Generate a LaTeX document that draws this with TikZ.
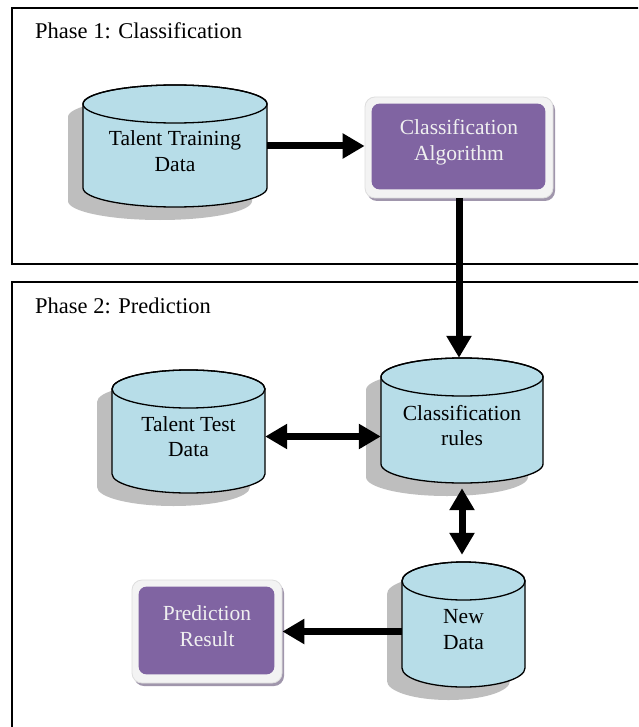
\documentclass[tikz,border=0pt]{standalone}
\usepackage{fontspec}
\setmainfont{Liberation Serif}
\usetikzlibrary{arrows.meta,shadows}

\definecolor{cylfill}{RGB}{183,221,232}
\definecolor{cylshade}{RGB}{190,190,190}
\definecolor{boxpurple}{RGB}{128,100,162}
\definecolor{framegray}{RGB}{243,243,243}
\definecolor{frameedge}{RGB}{222,222,222}
\definecolor{frameshadow}{RGB}{160,150,172}

\tikzset{
  phase/.style={draw=black, line width=1.5pt},
  phasetitle/.style={anchor=base west, inner sep=0pt, font=\fontsize{22.5}{26}\selectfont},
  anchorbox/.style={rectangle, inner sep=0pt},
  cyltext/.style={align=center, inner sep=0pt, font=\fontsize{21.5}{25.5}\selectfont},
  boxtext/.style={align=center, inner sep=0pt, text=white!94!black, font=\fontsize{21.5}{26}\selectfont},
  frame/.style={rectangle, rounded corners=10pt, fill=framegray, draw=frameedge, line width=0.8pt, inner sep=0pt,
    drop shadow={shadow xshift=2pt, shadow yshift=-3pt, fill=frameshadow, opacity=1}},
  flow/.style={line width=7pt, -{Triangle[width=24pt,length=22pt]}},
  flowboth/.style={line width=7pt, {Triangle[width=24pt,length=22pt]}-{Triangle[width=24pt,length=22pt]}},
}

% database cylinder: name, left, right, top, bottom, label
\newcommand\dbcyl[6]{%
  \pgfmathsetmacro\cylcx{(#2+#3)/2}%
  \pgfmathsetmacro\cylrx{(#3-#2)/2}%
  \pgfmathsetmacro\cylyt{#4+19}%
  \pgfmathsetmacro\cylyb{#5-19}%
  \pgfmathsetmacro\cylcy{(#4+#5)/2}%
  \pgfmathsetmacro\cylw{#3-#2}%
  \pgfmathsetmacro\cylh{#5-#4}%
  \fill[cylshade, shift={(-15,13)}] (#2,\cylyt) -- (#2,\cylyb)
     arc[start angle=180, end angle=0, x radius=\cylrx, y radius=19] -- (#3,\cylyt)
     arc[start angle=0, end angle=-180, x radius=\cylrx, y radius=19] -- cycle;
  \filldraw[fill=cylfill, draw=black, line width=1.3pt] (#2,\cylyt) -- (#2,\cylyb)
     arc[start angle=180, end angle=0, x radius=\cylrx, y radius=19] -- (#3,\cylyt)
     arc[start angle=0, end angle=-180, x radius=\cylrx, y radius=19] -- cycle;
  \draw[line width=1.3pt] (\cylcx,\cylyt) ellipse[x radius=\cylrx, y radius=19];
  \node[anchorbox, minimum width=\cylw pt, minimum height=\cylh pt] (#1) at (\cylcx,\cylcy) {};
  \node[cyltext] at ([yshift=-5pt]#1.center) {#6};
}

% rounded purple box inside a light frame: name, left, right, top, bottom, label
\newcommand\resultbox[6]{%
  \pgfmathsetmacro\bxcx{(#2+#3)/2}%
  \pgfmathsetmacro\bxcy{(#4+#5)/2}%
  \pgfmathsetmacro\bxw{#3-#2}%
  \pgfmathsetmacro\bxh{#5-#4}%
  \node[frame, minimum width=\bxw pt, minimum height=\bxh pt] (#1) at (\bxcx,\bxcy) {};
  \fill[boxpurple, rounded corners=8pt] ([shift={(7,7)}]#1.north west) rectangle ([shift={(-8,-9)}]#1.south east);
  \node[boxtext] at ([yshift=5pt]#1.center) {#6};
}

\begin{document}
\begin{tikzpicture}[x=1pt, y=-1pt]
  \useasboundingbox (0,0) rectangle (638,727);
  \clip (0,0) rectangle (638,727);
  \fill[white] (0,0) rectangle (638,727);

  % phase frames
  \draw[phase] (12,8) rectangle (660,264);
  \draw[phase] (12,282) rectangle (660,760);
  \node[phasetitle] (p1) at (35,39) {Phase 1: Classification};
  \node[phasetitle] (p2) at (35,313) {Phase 2: Prediction};

  % data stores
  \dbcyl{tr}{83}{267}{85}{207}{Talent Training\\Data}
  \dbcyl{tt}{112}{265}{370}{493}{Talent Test\\Data}
  \dbcyl{cr}{381}{543}{358}{483}{Classification\\rules}
  \dbcyl{nd}{402}{525}{562}{687}{New\\Data}

  % processes
  \resultbox{ca}{365}{553}{97}{198}{Classification\\Algorithm}
  \resultbox{pr}{132}{282}{580}{683}{Prediction\\Result}

  % connectors
  \draw[flow] (tr.east) -- (tr.east -| ca.west);
  \draw[flow] (ca.south) -- (ca.south |- cr.north);
  \draw[flowboth] ([yshift=-5pt]tt.east) -- ([yshift=-5pt]tt.east -| cr.west);
  \draw[flowboth, shorten <=5pt, shorten >=7pt] (cr.south) -- (cr.south |- nd.north);
  \draw[flow] (nd.west |- pr.east) -- (pr.east);
\end{tikzpicture}
\end{document}
